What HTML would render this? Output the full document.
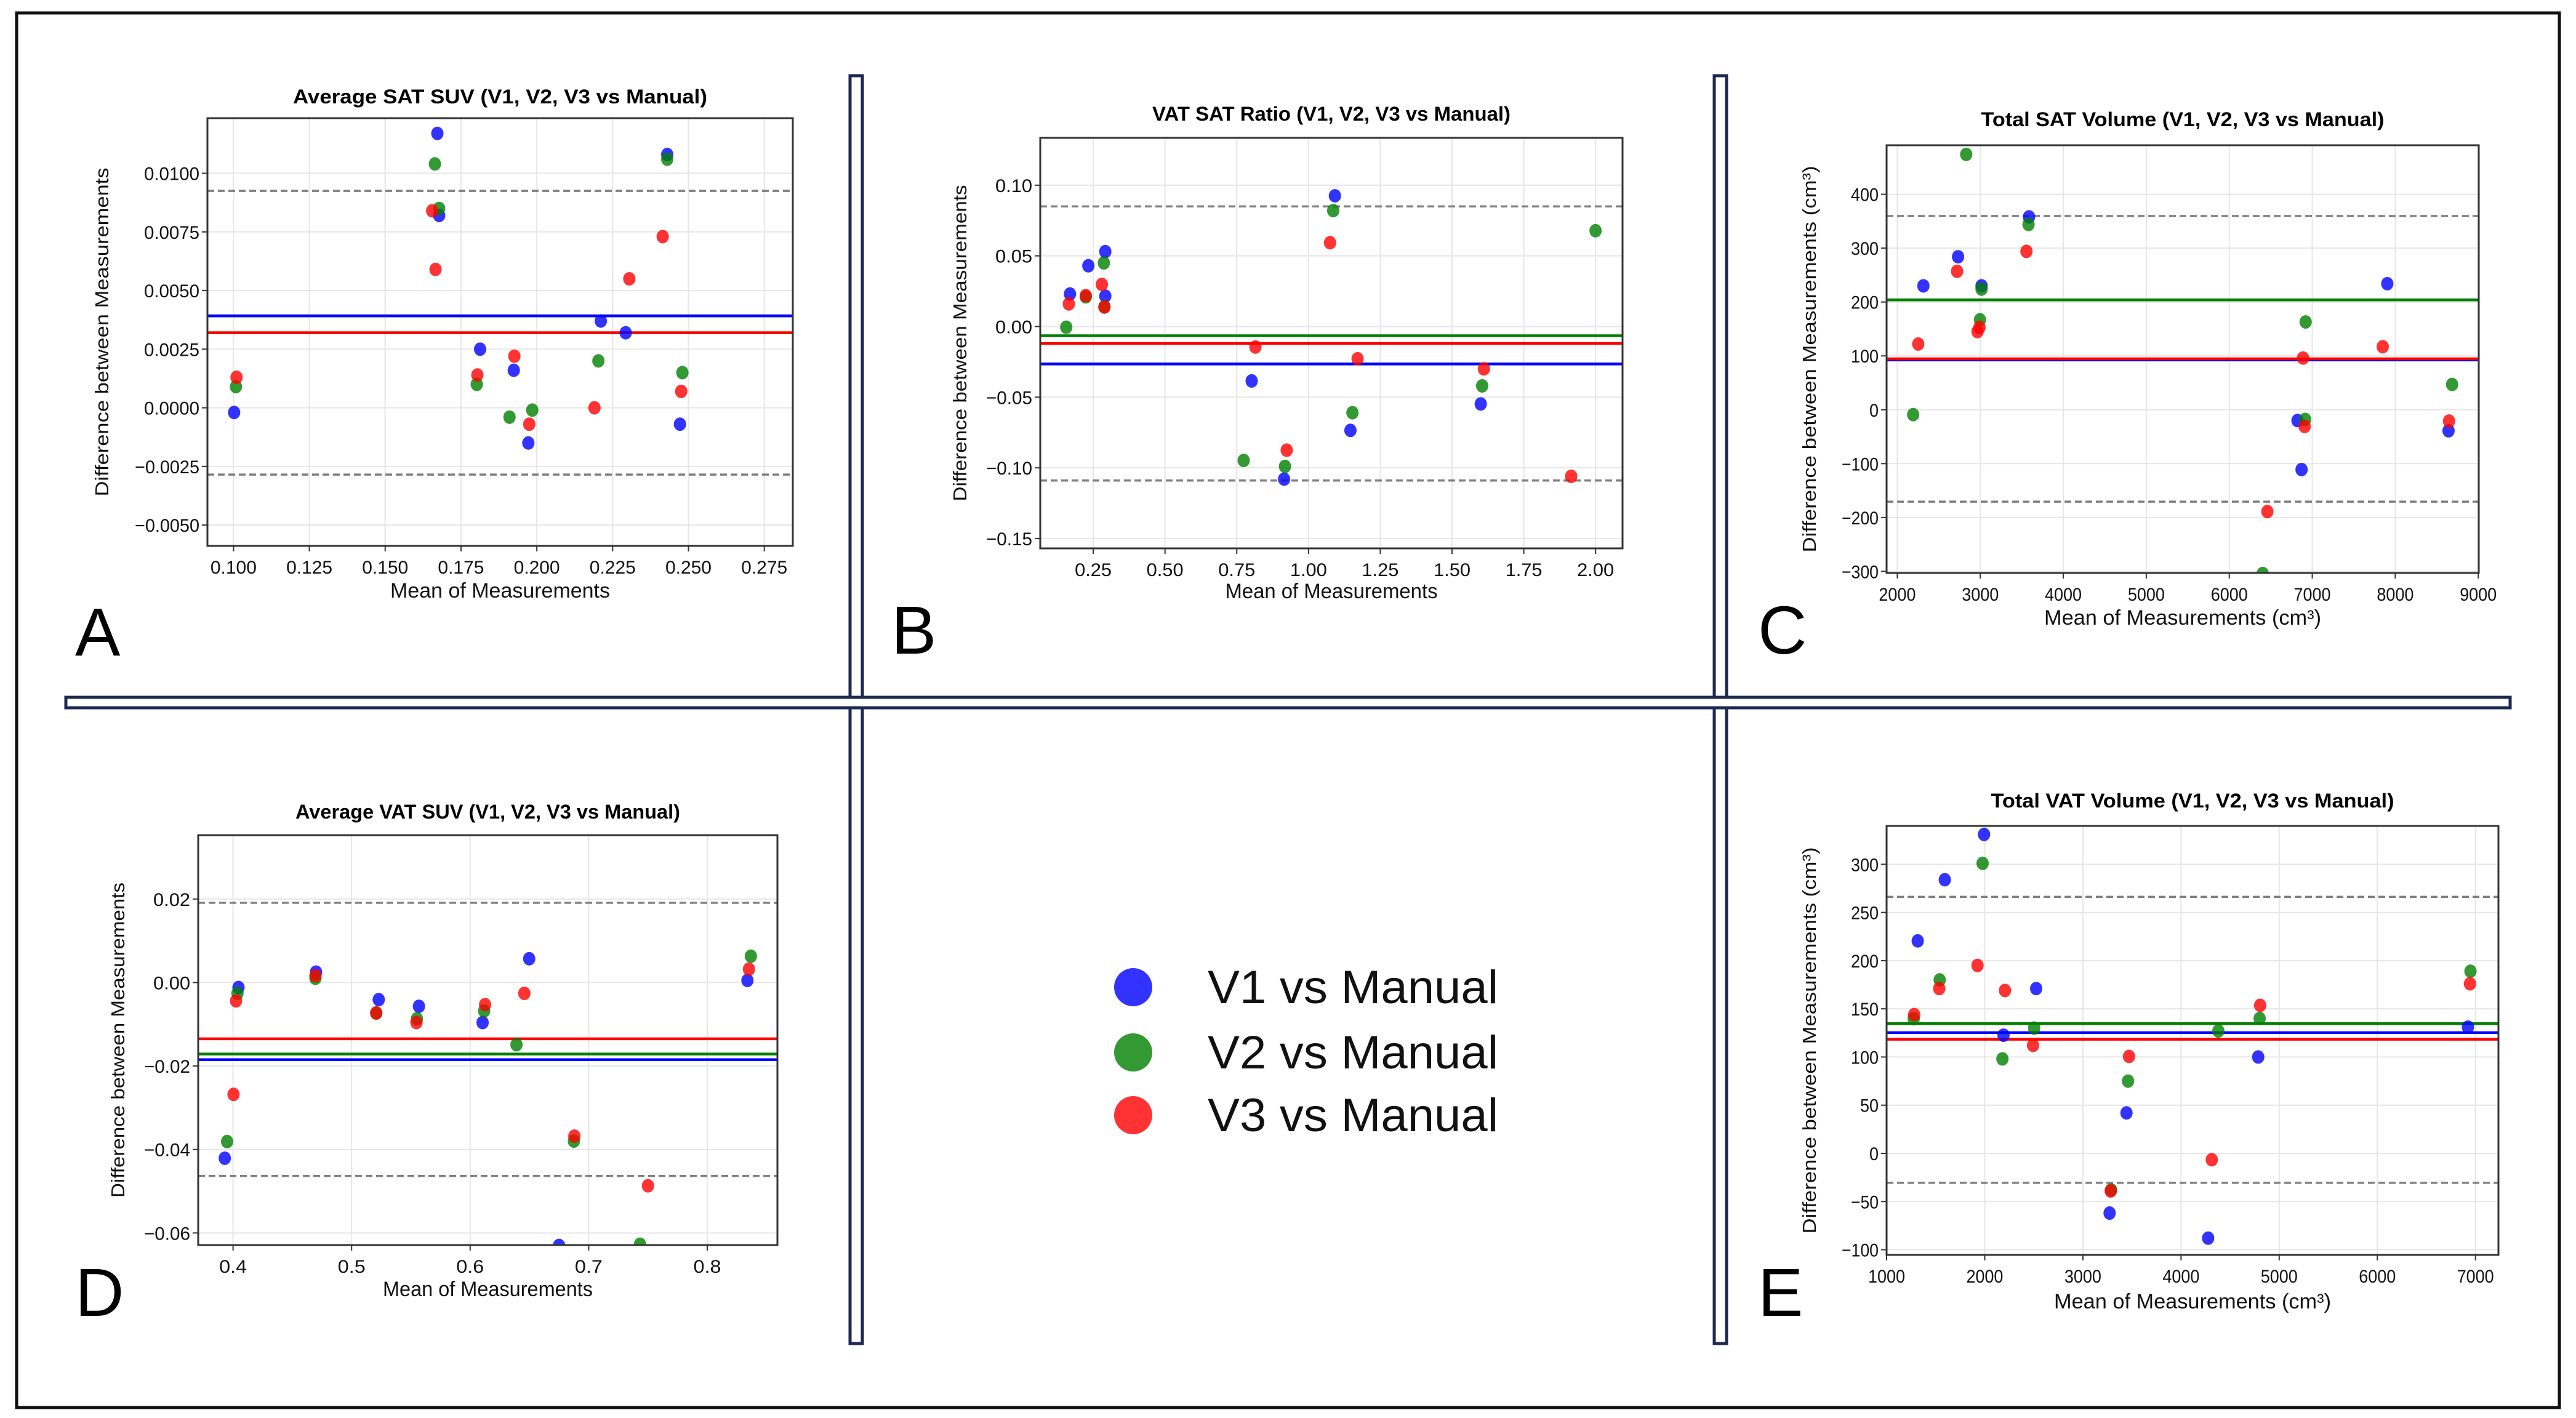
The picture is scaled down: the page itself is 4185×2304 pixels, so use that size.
<!DOCTYPE html>
<html><head><meta charset="utf-8"><style>
html,body{margin:0;padding:0;background:#fff;}
svg{display:block;font-family:"Liberation Sans","DejaVu Sans",sans-serif;}
</style></head><body>
<svg id="fig" width="4185" height="2304" viewBox="0 0 4185 2304" xmlns="http://www.w3.org/2000/svg">
<rect x="0" y="0" width="4185" height="2304" fill="#fff"/>
<rect x="27" y="21" width="4131" height="2266" fill="none" stroke="#111" stroke-width="5"/>
<rect x="1381" y="123" width="20" height="2060" fill="#fff" stroke="#1c2a4f" stroke-width="5"/>
<rect x="2785" y="123" width="20" height="2060" fill="#fff" stroke="#1c2a4f" stroke-width="5"/>
<rect x="107" y="1133" width="3971" height="17" fill="#fff" stroke="#1c2a4f" stroke-width="5"/>
<g id="panels"></g>
<g>
  <circle cx="1841" cy="1604" r="31" fill="#0000ff" fill-opacity="0.8"/>
  <text x="1962" y="1630" font-size="76" fill="#111" textLength="472" lengthAdjust="spacingAndGlyphs">V1 vs Manual</text>
  <circle cx="1841" cy="1710" r="31" fill="#008000" fill-opacity="0.8"/>
  <text x="1962" y="1736" font-size="76" fill="#111" textLength="472" lengthAdjust="spacingAndGlyphs">V2 vs Manual</text>
  <circle cx="1841" cy="1812" r="31" fill="#ff0000" fill-opacity="0.8"/>
  <text x="1962" y="1838" font-size="76" fill="#111" textLength="472" lengthAdjust="spacingAndGlyphs">V3 vs Manual</text>
</g>
<text x="122" y="1065" font-size="110" fill="#000">A</text>
<text x="1448" y="1062" font-size="110" fill="#000">B</text>
<text x="2856" y="1062" font-size="110" fill="#000">C</text>
<text x="122" y="2138" font-size="110" fill="#000">D</text>
<text x="2856" y="2138" font-size="110" fill="#000">E</text>
</svg>
<script>
// ---- Panel A: Average SAT SUV ----
const aV1x=[0.1002,0.1672,0.1678,0.1813,0.1924,0.1972,0.2211,0.2293,0.2430,0.2472];
const aV1y=[-0.0002,0.0117,0.0082,0.0025,0.0016,-0.0015,0.0037,0.0032,0.0108,-0.0007];
const aV2x=[0.1008,0.1664,0.1678,0.1802,0.1910,0.1985,0.2203,0.2430,0.2480];
const aV2y=[0.0009,0.0104,0.0085,0.0010,-0.0004,-0.0001,0.0020,0.0106,0.0015];
const aV3x=[0.1010,0.1655,0.1666,0.1804,0.1926,0.1975,0.2190,0.2305,0.2415,0.2476];
const aV3y=[0.0013,0.0084,0.0059,0.0014,0.0022,-0.0007,0.0000,0.0055,0.0073,0.0007];
const aMeans=[0.00392,0.00320,0.00320];
const aLoa=[0.00925,-0.00285];
const aXTicks=[0.100,0.125,0.150,0.175,0.200,0.225,0.250,0.275];
const aYTicks=[-0.005,-0.0025,0,0.0025,0.005,0.0075,0.010];
// ---- Panel B: VAT SAT Ratio ----
const bV1x=[0.169,0.233,0.292,0.292,0.802,0.915,1.092,1.146,1.600];
const bV1y=[0.023,0.043,0.053,0.0215,-0.0385,-0.108,0.0925,-0.0735,-0.0548];
const bV2x=[0.156,0.224,0.287,0.289,0.774,0.918,1.086,1.153,1.605,2.000];
const bV2y=[-0.0005,0.021,0.045,0.014,-0.0948,-0.099,0.082,-0.061,-0.042,0.0678];
const bV3x=[0.165,0.224,0.280,0.289,0.815,0.924,1.075,1.171,1.611,1.915];
const bV3y=[0.016,0.0218,0.0298,0.0138,-0.0145,-0.0875,0.0593,-0.0228,-0.030,-0.106];
const bMeans=[-0.0265,-0.0065,-0.012];
const bLoa=[0.085,-0.109];
const bXTicks=[0.25,0.50,0.75,1.00,1.25,1.50,1.75,2.00];
const bYTicks=[-0.15,-0.10,-0.05,0,0.05,0.10];
// ---- Panel C: Total SAT Volume ----
const cV1x=[2314,2732,3015,3587,6822,6871,7904,8642];
const cV1y=[230,284,230,358,-20,-111,234,-39];
const cV2x=[2191,2830,2996,3015,3581,6403,6920,6914,8685];
const cV2y=[-9,474,167,224,344,-304,163,-18,47];
const cV3x=[2252,2720,2966,2990,3556,6459,6889,6908,7849,8648];
const cV3y=[122,257,145,153,294,-189,96,-31,117,-21];
const cMeans=[92.5,204,94.5];
const cLoa=[359.6,-170.6];
const cXTicks=[2000,3000,4000,5000,6000,7000,8000,9000];
const cYTicks=[-300,-200,-100,0,100,200,300,400];
// ---- Panel D: Average VAT SUV ----
const dV1x=[0.393,0.4046,0.470,0.5229,0.5568,0.6105,0.6498,0.675,0.8339];
const dV1y=[-0.0421,-0.0012,0.0025,-0.0041,-0.0057,-0.0096,0.0057,-0.063,0.0005];
const dV2x=[0.395,0.4037,0.4695,0.5208,0.5551,0.6118,0.6391,0.6875,0.7433,0.8368];
const dV2y=[-0.0381,-0.0026,0.0010,-0.0073,-0.0087,-0.0068,-0.0149,-0.0380,-0.0627,0.0063];
const dV3x=[0.4004,0.4025,0.4695,0.5208,0.5547,0.6126,0.6457,0.6879,0.750,0.8352];
const dV3y=[-0.0268,-0.0044,0.0016,-0.0073,-0.0096,-0.0053,-0.0026,-0.0368,-0.0487,0.0032];
const dMeans=[-0.01848,-0.01714,-0.01348];
const dLoa=[0.0191,-0.04634];
const dXTicks=[0.4,0.5,0.6,0.7,0.8];
const dYTicks=[-0.06,-0.04,-0.02,0,0.02];
// ---- Panel E: Total VAT Volume ----
const eV1x=[1317,1593,1993,2191,2524,3272,3444,4276,4786,6923];
const eV1y=[220.5,284,331,122.6,171,-62,42,-88,100,131];
const eV2x=[1276,1541,1978,2180,2503,3288,3460,4380,4801,6949];
const eV2y=[139.7,180,301,98,130,-38,75,127,140,189];
const eV3x=[1281,1536,1926,2206,2492,3283,3470,4313,4806,6944];
const eV3y=[144,171,195,169,112,-39,100.6,-6.6,153.6,176];
const eMeans=[125.3,134.6,118.4];
const eLoa=[266.2,-30.6];
const eXTicks=[1000,2000,3000,4000,5000,6000,7000];
const eYTicks=[-100,-50,0,50,100,150,200,250,300];

const NS="http://www.w3.org/2000/svg";
const COLORS=["#0000ff","#008000","#ff0000"];
const SERIES=["v1","v2","v3"];
function mk(tag,attrs,parent){const e=document.createElementNS(NS,tag);for(const k in attrs)e.setAttribute(k,attrs[k]);parent.appendChild(e);return e;}
function fmt(v,d){const s=Math.abs(v).toFixed(d);return (v<-1e-12?"\u2212":"")+s;}

const panels=[
 {id:"a",box:[337,192,1288,887],xd:[0.0914,0.2844],yd:[-0.00589,0.01235],xt:aXTicks,yt:aYTicks,xdp:3,ydp:4,
  title:"Average SAT SUV (V1, V2, V3 vs Manual)",tw:673,ty:168,xl:"Mean of Measurements",xlw:357,xly:971,ylx:176,yl:"Difference between Measurements",ylw:534,
  xs:[aV1x,aV2x,aV3x],ys:[aV1y,aV2y,aV3y],means:aMeans,loa:aLoa},
 {id:"b",box:[1690,224,2636,891],xd:[0.0654,2.094],yd:[-0.157,0.1335],xt:bXTicks,yt:bYTicks,xdp:2,ydp:2,
  title:"VAT SAT Ratio (V1, V2, V3 vs Manual)",tw:582,ty:196,xl:"Mean of Measurements",xlw:345,xly:972,ylx:1570,yl:"Difference between Measurements",ylw:514,
  xs:[bV1x,bV2x,bV3x],ys:[bV1y,bV2y,bV3y],means:bMeans,loa:bLoa},
 {id:"c",box:[3065,236,4027,931],xd:[1871,9006],yd:[-303,491],xt:cXTicks,yt:cYTicks,xdp:0,ydp:0,
  title:"Total SAT Volume (V1, V2, V3 vs Manual)",tw:655,ty:205,xl:"Mean of Measurements (cm\u00b3)",xlw:450,xly:1015,ylx:2950,yl:"Difference between Measurements (cm\u00b3)",ylw:628,
  xs:[cV1x,cV2x,cV3x],ys:[cV1y,cV2y,cV3y],means:cMeans,loa:cLoa},
 {id:"d",box:[322,1357,1263,2023],xd:[0.3706,0.8592],yd:[-0.0629,0.0353],xt:dXTicks,yt:dYTicks,xdp:1,ydp:2,
  title:"Average VAT SUV (V1, V2, V3 vs Manual)",tw:625,ty:1330,xl:"Mean of Measurements",xlw:341,xly:2106,ylx:202,yl:"Difference between Measurements",ylw:512,
  xs:[dV1x,dV2x,dV3x],ys:[dV1y,dV2y,dV3y],means:dMeans,loa:dLoa},
 {id:"e",box:[3065,1342,4059,2039],xd:[1000,7234],yd:[-105.4,339.8],xt:eXTicks,yt:eYTicks,xdp:0,ydp:0,
  title:"Total VAT Volume (V1, V2, V3 vs Manual)",tw:655,ty:1312,xl:"Mean of Measurements (cm\u00b3)",xlw:450,xly:2126,ylx:2950,yl:"Difference between Measurements (cm\u00b3)",ylw:628,
  xs:[eV1x,eV2x,eV3x],ys:[eV1y,eV2y,eV3y],means:eMeans,loa:eLoa}
];

const root=document.getElementById("panels");
panels.forEach(p=>{
  const [L,T,R,B]=p.box;
  const sx=v=>L+(v-p.xd[0])/(p.xd[1]-p.xd[0])*(R-L);
  const sy=v=>B-(v-p.yd[0])/(p.yd[1]-p.yd[0])*(B-T);
  const g=mk("g",{},root);
  
  
  const cp=mk("clipPath",{id:"clip-"+p.id},g);
  mk("rect",{x:L,y:T,width:R-L,height:B-T},cp);
  const title=mk("text",{x:(L+R)/2,y:p.ty,"text-anchor":"middle","font-size":32,"font-weight":"bold",fill:"#000",textLength:p.tw,lengthAdjust:"spacingAndGlyphs"},g);
  title.textContent=p.title;
  
  
  // grid
  p.xt.forEach(t=>{const x=sx(t);
    const gl=mk("line",{x1:x,x2:x,y1:T,y2:B,stroke:"#e6e6e6","stroke-width":2},g);
    
    
    mk("line",{x1:x,x2:x,y1:B,y2:B+9,stroke:"#333","stroke-width":2},g);
    const s=fmt(t,p.xdp);
    const tl=mk("text",{x:x,y:B+45,"text-anchor":"middle","font-size":30,fill:"#111",textLength:s.length*15,lengthAdjust:"spacingAndGlyphs"},g);
    tl.textContent=s;
    
    
  });
  p.yt.forEach(t=>{const y=sy(t);
    const gl=mk("line",{x1:L,x2:R,y1:y,y2:y,stroke:"#e6e6e6","stroke-width":2},g);
    
    
    mk("line",{x1:L-9,x2:L,y1:y,y2:y,stroke:"#333","stroke-width":2},g);
    const s=fmt(t,p.ydp);
    const tl=mk("text",{x:L-13,y:y+11,"text-anchor":"end","font-size":30,fill:"#111",textLength:s.length*15,lengthAdjust:"spacingAndGlyphs"},g);
    tl.textContent=s;
    
    
  });
  const plot=mk("g",{"clip-path":"url(#clip-"+p.id+")"},g);
  // limits of agreement
  p.loa.forEach((v,i)=>{
    const l=mk("line",{x1:L,x2:R,y1:sy(v),y2:sy(v),stroke:"#808080","stroke-width":3.5,"stroke-dasharray":"11,6"},plot);
    
    
  });
  // mean bias lines (green first so red/blue overlay as in reference)
  [1,0,2].forEach(i=>{
    const l=mk("line",{x1:L,x2:R,y1:sy(p.means[i]),y2:sy(p.means[i]),stroke:COLORS[i],"stroke-width":4.5},plot);
    
    
  });
  // points
  [0,1,2].forEach(i=>{
    p.xs[i].forEach((xv,k)=>{
      const c=mk("ellipse",{cx:sx(xv),cy:sy(p.ys[i][k]),rx:10,ry:11,fill:COLORS[i],"fill-opacity":0.8},plot);
      
      
    });
  });
  const frame=mk("rect",{x:L,y:T,width:R-L,height:B-T,fill:"none",stroke:"#333","stroke-width":3},g);
  
  
  const xl=mk("text",{x:(L+R)/2,y:p.xly,"text-anchor":"middle","font-size":34,fill:"#111",textLength:p.xlw,lengthAdjust:"spacingAndGlyphs"},g);
  xl.textContent=p.xl;
  
  
  const cy=(T+B)/2;
  const yl=mk("text",{x:p.ylx,y:cy,"text-anchor":"middle","font-size":31,fill:"#111",transform:"rotate(-90 "+p.ylx+" "+cy+")",textLength:p.ylw,lengthAdjust:"spacingAndGlyphs"},g);
  yl.textContent=p.yl;
  
  
});
</script>
</body></html>
